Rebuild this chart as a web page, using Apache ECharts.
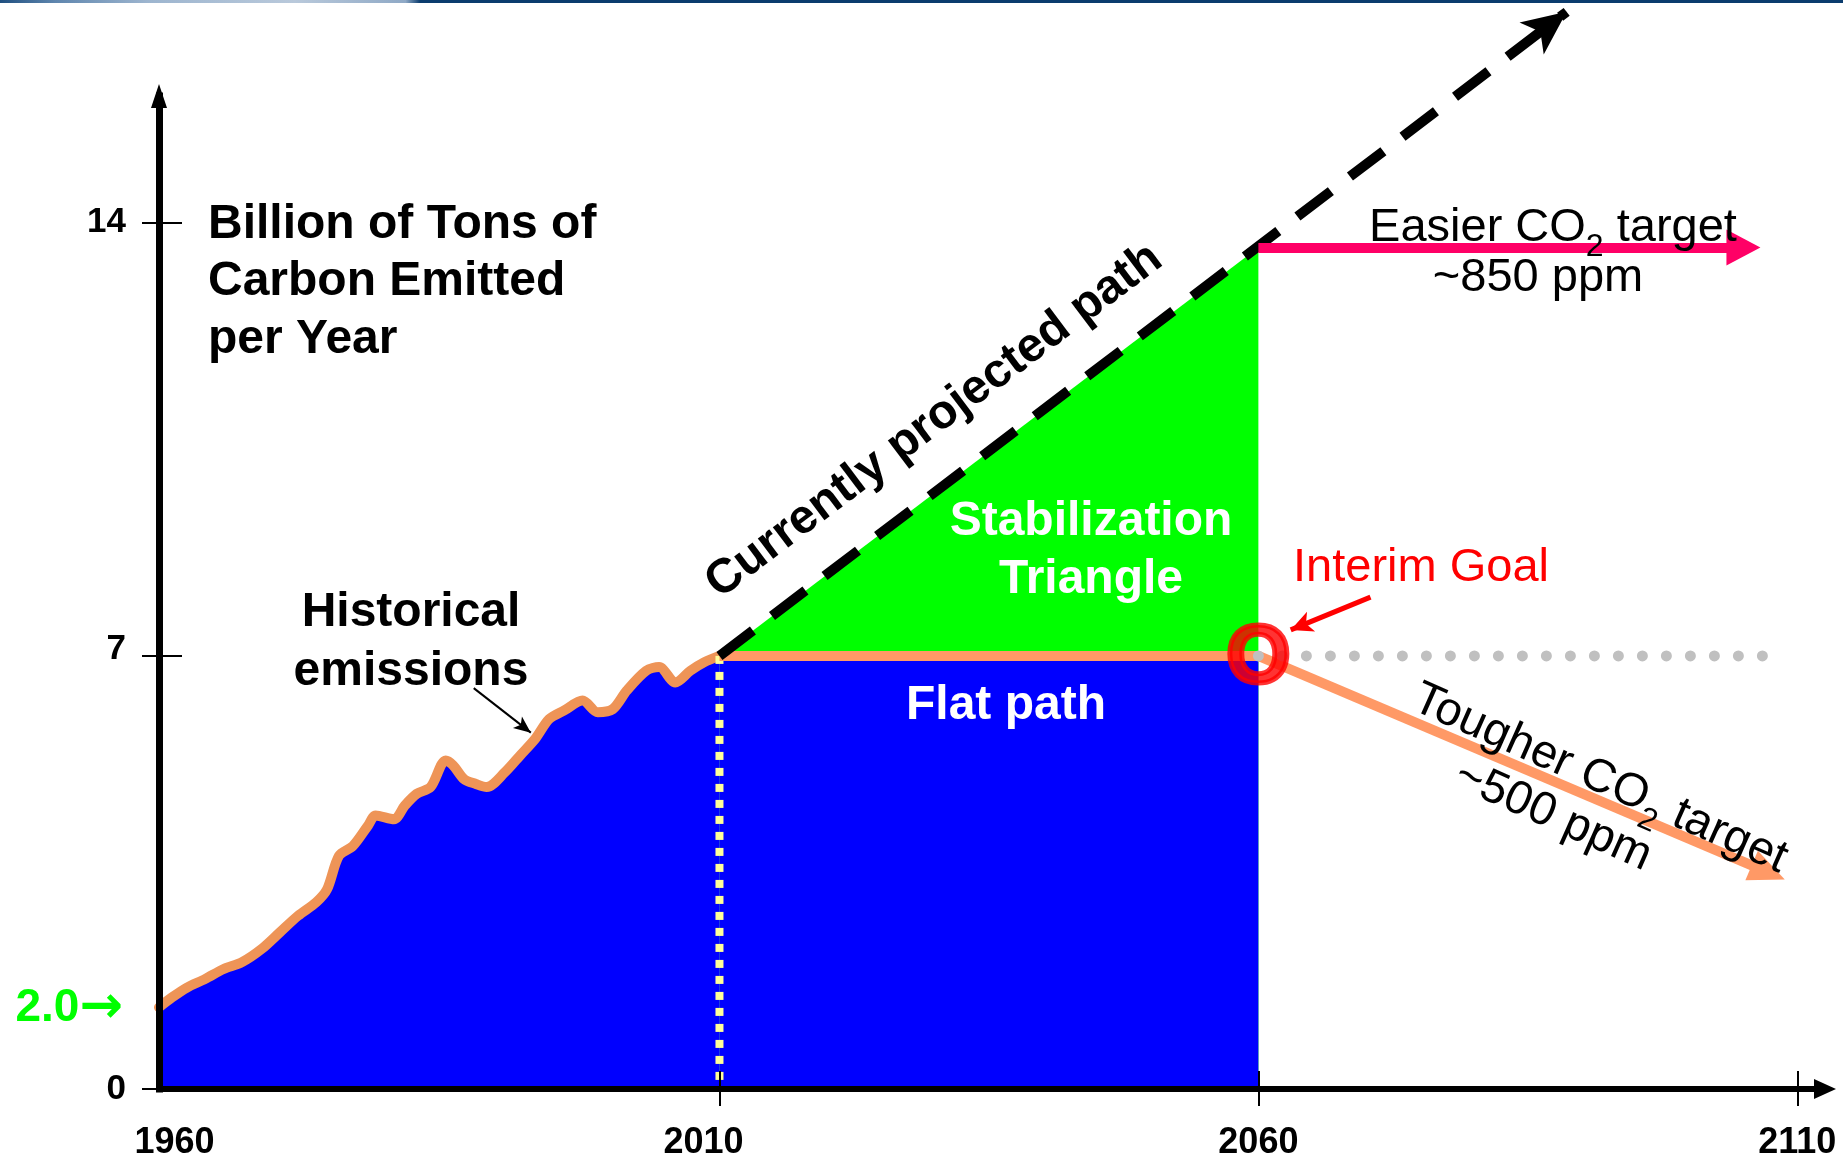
<!DOCTYPE html>
<html>
<head>
<meta charset="utf-8">
<script src="https://cdn.jsdelivr.net/npm/echarts@6/dist/echarts.min.js"></script>
<style>
html,body{margin:0;padding:0;background:#fff;}
#chart{width:1843px;height:1162px;}
</style>
</head>
<body>
<div id="chart"></div>
<script>
// ---------------- DATA ----------------
const histYears  = [1958, 1959.2, 1960.6, 1962.3, 1964.0, 1965.7, 1967.5, 1969.2, 1970.9, 1972.6,
                    1973.6, 1974.7, 1976.0, 1977.4, 1978.1, 1979.8, 1980.8, 1981.9, 1983.2, 1984.6,
                    1985.3, 1986.3, 1987.4, 1988.4, 1990.1, 1991.5, 1992.9, 1994.2, 1995.6, 1997.3,
                    1998.7, 2000.1, 2001.4, 2003.2, 2004.4, 2005.9, 2007.3, 2008.6, 2010];
const histValues = [1.32, 1.48, 1.64, 1.78, 1.94, 2.05, 2.26, 2.53, 2.80, 3.02,
                    3.23, 3.77, 3.93, 4.26, 4.42, 4.36, 4.58, 4.77, 4.88, 5.31,
                    5.23, 5.01, 4.93, 4.88, 5.12, 5.39, 5.66, 5.98, 6.12, 6.28,
                    6.09, 6.14, 6.44, 6.76, 6.82, 6.57, 6.76, 6.90, 7.00];

const flatYears   = [2010, 2060];
const flatValues  = [7, 7];

const projYears   = [2010, 2060, 2088.6];     // currently projected path (last = arrow tip)
const projValues  = [7, 13.6, 17.41];

const easierYears  = [2060, 2105];            // ~850 ppm
const easierValues = [13.6, 13.6];

const tougherYears  = [2060, 2107.3];         // ~500 ppm
const tougherValues = [7, 3.5];

const holdYears   = [2060, 2106.8];           // grey dotted continuation
const holdValues  = [7, 7];

const interimPoint = [2060, 7];
const interimArrowYears  = [2070.4, 2063.0];
const interimArrowValues = [7.95, 7.42];
const histArrowYears  = [1987.2, 1992.5];
const histArrowValues = [6.48, 5.76];

const xLabelValues = [1960, 2010, 2060, 2110];
const xTickValues  = [2010, 2060, 2110];
const yLabelValues = [0, 7, 14];
const yTickInside  = [7, 14];

// ---------------- helpers ----------------
const zip = (xs, ys) => xs.map((x, i) => [x, ys[i]]);
const F = '"Liberation Sans", Arial, Helvetica, sans-serif';
const X_MIN = 1958, X_MAX = 2112.57, Y_MAX = 16.05;

const chart = echarts.init(document.getElementById('chart'), null, {renderer: 'canvas', width: 1843, height: 1162});

const xLab = {fontSize: 36, fontWeight: 'bold', fontFamily: F, color: '#000'};
const yLab = {fontSize: 35, fontWeight: 'bold', fontFamily: F, color: '#000'};
const subStyle = {fontSize: 32, fontFamily: F, padding: [38, 0, 0, 0]};

const option = {
  animation: false,
  backgroundColor: '#ffffff',
  grid: {left: 159, right: 18, top: 96, bottom: 73, containLabel: false, outerBoundsMode: 'none'},
  xAxis: [
    {
      type: 'value', min: X_MIN, max: X_MAX, position: 'bottom', z: 20,
      axisLine: {show: true, onZero: false, symbol: ['none', 'triangle'], symbolSize: [20, 22],
                 lineStyle: {color: '#000', width: 6, cap: 'square'}},
      axisTick: {show: true, customValues: xTickValues, length: 17, lineStyle: {color: '#000', width: 2}},
      axisLabel: {show: true, customValues: xLabelValues, margin: 36, ...xLab,
        formatter: v => v === 2010 ? '{a|' + v + '}' : (v === 1960 ? '{b|' + v + '}' : '{n|' + v + '}'),
        rich: {a: {...xLab, padding: [0, 32, 0, 0]}, b: {...xLab, padding: [0, 12, 0, 0]}, n: {...xLab}}},
      splitLine: {show: false}
    },
    {
      type: 'value', min: X_MIN, max: X_MAX, position: 'bottom', z: 20,
      axisLine: {show: false},
      axisTick: {show: true, inside: true, customValues: xTickValues, length: 18, lineStyle: {color: '#000', width: 2}},
      axisLabel: {show: false}, splitLine: {show: false}
    }
  ],
  yAxis: [
    {
      type: 'value', min: 0, max: Y_MAX, position: 'left', z: 20,
      axisLine: {show: true, onZero: false, symbol: ['none', 'triangle'], symbolSize: [16, 24],
                 lineStyle: {color: '#000', width: 7, cap: 'square'}},
      axisTick: {show: true, customValues: yLabelValues, length: 17, lineStyle: {color: '#000', width: 2}},
      axisLabel: {show: true, customValues: yLabelValues, margin: 33, ...yLab,
        formatter: v => v === 7 ? '{u|7}' : '{n|' + v + '}',
        rich: {u: {...yLab, padding: [0, 0, 13, 0]}, n: {...yLab}}},
      splitLine: {show: false}
    },
    {
      type: 'value', min: 0, max: Y_MAX, position: 'left', z: 20,
      axisLine: {show: false},
      axisTick: {show: true, inside: true, customValues: yTickInside, length: 23, lineStyle: {color: '#000', width: 2}},
      axisLabel: {show: false}, splitLine: {show: false}
    }
  ],
  series: [
    { // stabilization triangle (green), covered below 7 by the flat-path area
      type: 'line', z: 2, symbol: 'none', silent: true,
      data: zip(projYears.slice(0, 2), projValues.slice(0, 2)),
      lineStyle: {width: 0}, areaStyle: {color: '#00FF00', opacity: 1}
    },
    { // flat path area (blue)
      type: 'line', z: 3, symbol: 'none', silent: true,
      data: zip(flatYears, flatValues),
      lineStyle: {width: 0}, areaStyle: {color: '#0000FF', opacity: 1}
    },
    { // historical emissions
      type: 'line', z: 4, symbol: 'none', silent: true, smooth: 0.3,
      data: zip(histYears, histValues),
      lineStyle: {color: '#EE9457', width: 10, cap: 'round', join: 'round'},
      areaStyle: {color: '#0000FF', opacity: 1}
    },
    { // yellow dotted 2010 divider
      type: 'line', z: 5, symbol: 'none', silent: true,
      data: zip([flatYears[0], flatYears[0]], [flatValues[0], 0]),
      lineStyle: {color: '#FFFF99', width: 8, type: [8, 8]}
    },
    { // flat path line
      type: 'line', z: 6, symbol: 'none', silent: true,
      data: zip(flatYears, flatValues),
      lineStyle: {color: '#FF9966', width: 10}
    },
    { // currently projected path (dashed, arrow)
      type: 'lines', coordinateSystem: 'cartesian2d', z: 7, clip: false, silent: true,
      symbol: ['none', 'arrow'], symbolSize: [0, [30, 44]],
      lineStyle: {color: '#000', width: 10, type: [42, 24], opacity: 1, curveness: 0},
      data: [{coords: [[projYears[0], projValues[0]], [projYears[2], projValues[2]]]}]
    },
    { // tougher target
      type: 'lines', coordinateSystem: 'cartesian2d', z: 7, clip: false, silent: true,
      symbol: ['none', 'triangle'], symbolSize: [0, [32, 36]],
      lineStyle: {color: '#FF9966', width: 10, opacity: 1, curveness: 0},
      data: [{coords: zip(tougherYears, tougherValues)}]
    },
    { // grey dotted hold line
      type: 'line', z: 8, symbol: 'none', silent: true,
      data: zip(holdYears, holdValues),
      lineStyle: {color: '#C0C0C0', width: 11, type: [0, 24], cap: 'round'}
    },
    { // easier target
      type: 'lines', coordinateSystem: 'cartesian2d', z: 8, clip: false, silent: true,
      symbol: ['none', 'triangle'], symbolSize: [0, [36, 34]],
      lineStyle: {color: '#FF0066', width: 10, opacity: 1, curveness: 0},
      data: [{coords: zip(easierYears, easierValues)}]
    },
    { // interim goal "O"
      type: 'scatter', z: 9, silent: true, symbol: 'circle', symbolSize: 1,
      itemStyle: {color: 'rgba(0,0,0,0)'},
      label: {show: true, position: 'inside', formatter: 'O', color: '#FF0000', offset: [0, 3],
              fontSize: 82, fontWeight: 'bold', fontFamily: F,
              textBorderColor: '#FF0000', textBorderWidth: 5},
      data: [interimPoint]
    },
    { // interim arrow
      type: 'lines', coordinateSystem: 'cartesian2d', z: 9, clip: false, silent: true,
      symbol: ['none', 'arrow'], symbolSize: [0, [16, 22]],
      lineStyle: {color: '#FF0000', width: 5, opacity: 1, curveness: 0},
      data: [{coords: zip(interimArrowYears, interimArrowValues)}]
    },
    { // historical arrow
      type: 'lines', coordinateSystem: 'cartesian2d', z: 9, clip: false, silent: true,
      symbol: ['none', 'arrow'], symbolSize: [0, [11, 17]],
      lineStyle: {color: '#000', width: 2, opacity: 1, curveness: 0},
      data: [{coords: zip(histArrowYears, histArrowValues)}]
    }
  ],
  graphic: {
    elements: [
      {type: 'rect', z: 100, silent: true, shape: {x: 0, y: 0, width: 1843, height: 3},
       style: {fill: new echarts.graphic.LinearGradient(0, 0, 1, 0, [
         {offset: 0, color: '#1F4F80'}, {offset: 0.03, color: '#5F86AE'}, {offset: 0.08, color: '#9DB5CF'},
         {offset: 0.16, color: '#B9C9DB'}, {offset: 0.22, color: '#8FA9C6'}, {offset: 0.228, color: '#0B3C6E'},
         {offset: 1, color: '#0B3C6E'}])}},
      {type: 'text', z: 100, silent: true, x: 208, y: 282,
       style: {text: 'Billion of Tons of\nCarbon Emitted\nper Year', font: 'bold 48px ' + F, fill: '#000',
               textAlign: 'left', textVerticalAlign: 'middle', lineHeight: 57.5}},
      {type: 'text', z: 100, silent: true, x: 411, y: 642.5,
       style: {text: 'Historical\nemissions', font: 'bold 48px ' + F, fill: '#000',
               textAlign: 'center', textVerticalAlign: 'middle', lineHeight: 59}},
      {type: 'text', z: 100, silent: true, x: 934, y: 421, rotation: 37 * Math.PI / 180,
       style: {text: 'Currently projected path', font: 'bold 48px ' + F, fill: '#000',
               textAlign: 'center', textVerticalAlign: 'middle'}},
      {type: 'text', z: 100, silent: true, x: 1091, y: 551,
       style: {text: 'Stabilization\nTriangle', font: 'bold 48px ' + F, fill: '#FFFFFF',
               textAlign: 'center', textVerticalAlign: 'middle', lineHeight: 58}},
      {type: 'text', z: 100, silent: true, x: 1006, y: 705.5,
       style: {text: 'Flat path', font: 'bold 48px ' + F, fill: '#FFFFFF',
               textAlign: 'center', textVerticalAlign: 'middle'}},
      {type: 'text', z: 100, silent: true, x: 1421, y: 568.5,
       style: {text: 'Interim Goal', font: '47px ' + F, fill: '#FF0000',
               textAlign: 'center', textVerticalAlign: 'middle'}},
      {type: 'text', z: 100, silent: true, x: 1553, y: 228.5,
       style: {text: 'Easier CO{s|2} target', font: '47px ' + F, fill: '#000',
               textAlign: 'center', textVerticalAlign: 'middle', rich: {s: subStyle}}},
      {type: 'text', z: 100, silent: true, x: 1538, y: 278.5,
       style: {text: '~850 ppm', font: '47px ' + F, fill: '#000',
               textAlign: 'center', textVerticalAlign: 'middle'}},
      {type: 'text', z: 100, silent: true, x: 1600, y: 779, rotation: -24 * Math.PI / 180,
       style: {text: 'Tougher CO{s|2} target', font: '47px ' + F, fill: '#000',
               textAlign: 'center', textVerticalAlign: 'middle', rich: {s: subStyle}}},
      {type: 'text', z: 100, silent: true, x: 1553, y: 816, rotation: -24 * Math.PI / 180,
       style: {text: '~500 ppm', font: '47px ' + F, fill: '#000',
               textAlign: 'center', textVerticalAlign: 'middle'}},
      {type: 'text', z: 100, silent: true, x: 123, y: 1008,
       style: {text: '2.0{a|\u2192}', font: 'bold 46px ' + F, fill: '#00FF00',
               textAlign: 'right', textVerticalAlign: 'middle',
               rich: {a: {fontSize: 52, fontWeight: 'bold', fontFamily: '"DejaVu Sans", sans-serif'}}}}
    ]
  }
};
chart.setOption(option);
</script>
</body>
</html>
